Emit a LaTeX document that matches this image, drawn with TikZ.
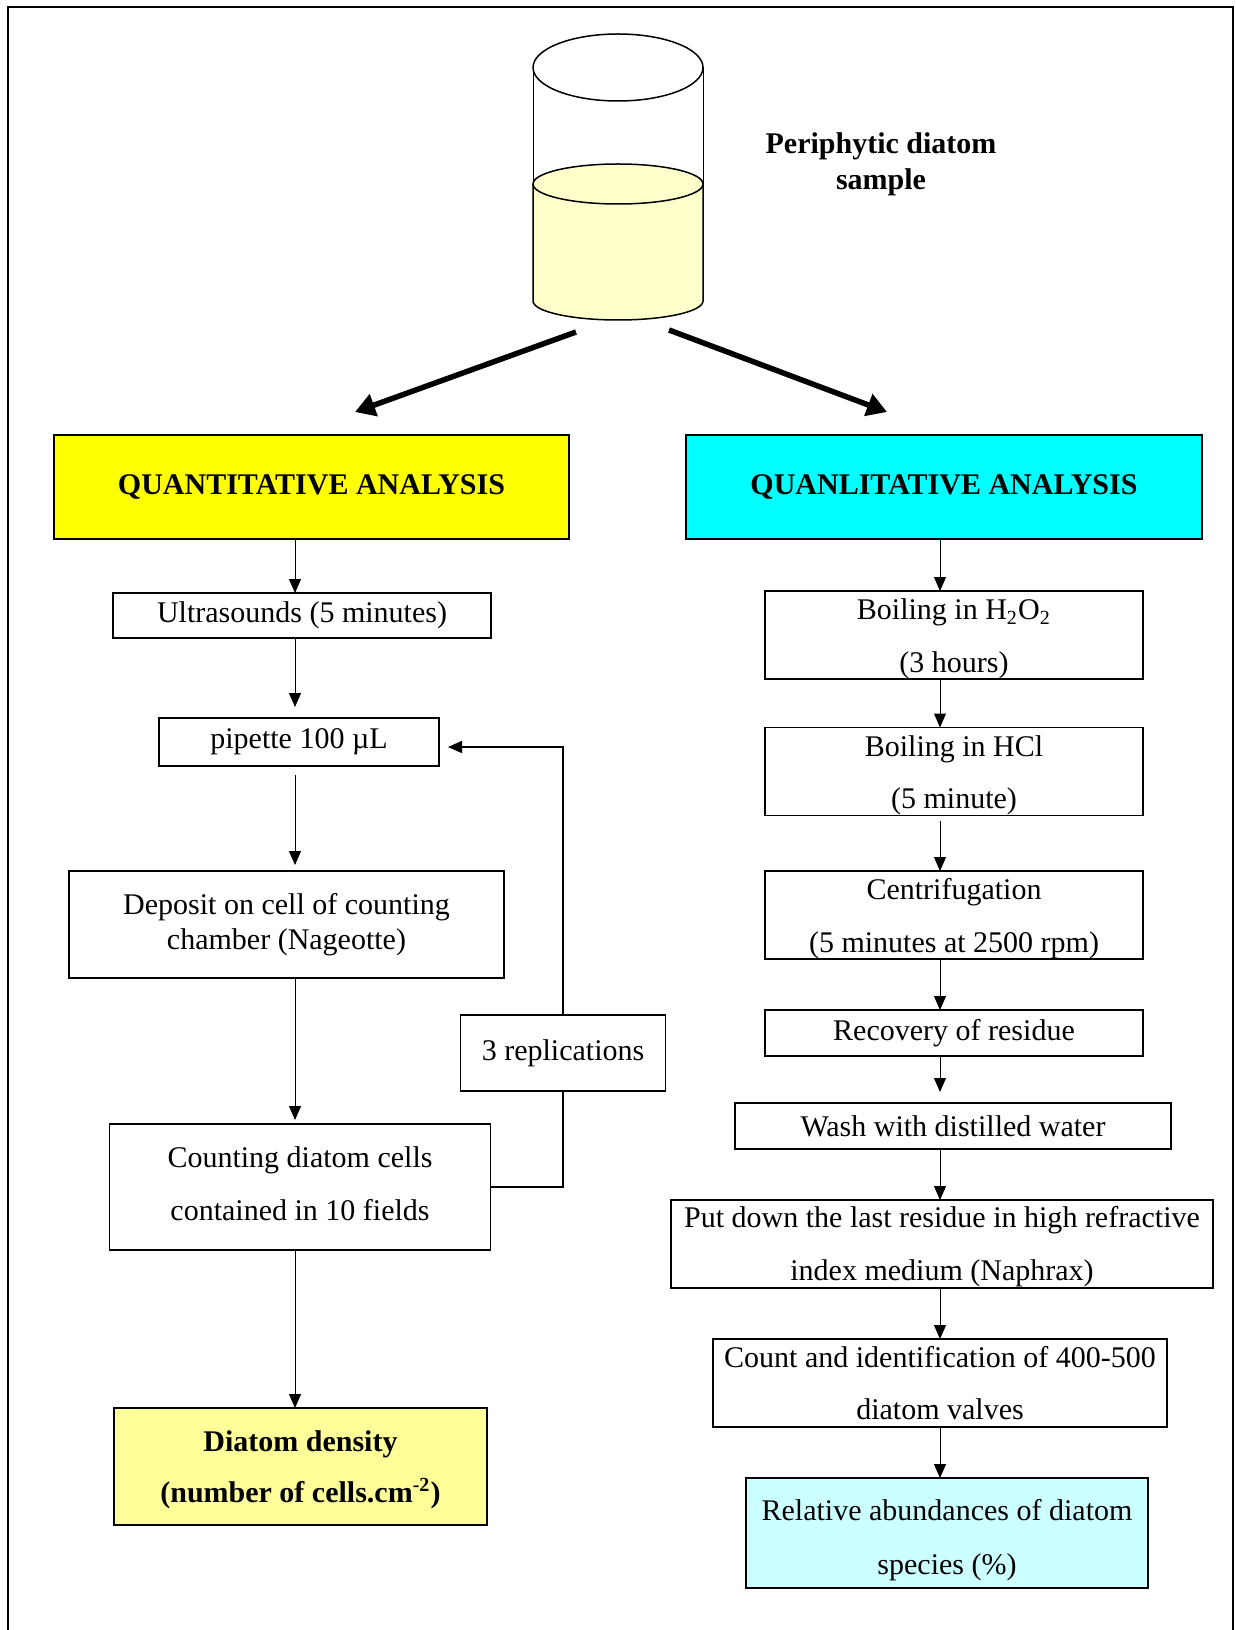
\documentclass[tikz,border=0pt]{standalone}
\usepackage{fontspec}
\setmainfont{Liberation Serif}
\usetikzlibrary{arrows.meta}
\definecolor{liquid}{HTML}{FFFFCC}
\definecolor{quantfill}{HTML}{FFFF00}
\definecolor{qualfill}{HTML}{00FFFF}
\definecolor{densfill}{HTML}{FFFF99}
\definecolor{abundfill}{HTML}{CCFFFF}

\begin{document}
\begin{tikzpicture}[x=0.4pt, y=-0.4pt, >={Triangle[length=5.6pt, width=4.8pt]},
boxsize/.style 2 args={minimum width=#1, minimum height=#2},
stepnode/.style={draw=black, semithick, fill=white, inner sep=0pt, outer sep=0pt, align=center, font=\fontsize{12}{21}\selectfont},
headnode/.style={draw=black, thick, inner sep=0pt, outer sep=0pt, font=\fontsize{12}{14}\selectfont\bfseries, boxsize={206pt}{41.6pt}},
bignode/.style={->, line width=2.2pt, >={Triangle[length=8pt, width=9pt]}}]
\useasboundingbox (0,0) rectangle (1235,1630);
\draw[line width=0.8pt] (8,1645) -- (8,7) -- (1233,7) -- (1233,1645);

\draw[semithick] (618,67.5) ellipse[x radius=85, y radius=33.5];
\draw[thin] (533,67.5) -- (533,184);
\draw[thin] (703,67.5) -- (703,184);
\draw[semithick, fill=liquid] (533,184) -- (533,301) arc[start angle=180, end angle=0, x radius=85, y radius=19] -- (703,184);
\draw[semithick, fill=liquid] (618,184) ellipse[x radius=85, y radius=20];
\node[align=center, font=\fontsize{12}{14.4}\selectfont\bfseries] (sample) at (881,164) {Periphytic diatom\\sample};

\coordinate (ls) at (576,332);
\coordinate (le) at (355,412);
\coordinate (rs) at (669,330);
\coordinate (re) at (887,412);
\draw[bignode] (ls) -- (le);
\draw[bignode] (rs) -- (re);

\node[headnode, fill=quantfill] (quant) at (311.5,487) {QUANTITATIVE ANALYSIS};
\node[headnode, fill=qualfill, boxsize={206.4pt}{41.6pt}] (qual) at (944,487) {QUANLITATIVE ANALYSIS};

\node[stepnode, boxsize={151.2pt}{18pt}] (ultra) at (302,615.5) {Ultrasounds (5 minutes)};
\node[stepnode, boxsize={112pt}{19.2pt}] (pip) at (299,742) {pipette 100 µL};
\node[stepnode, boxsize={174pt}{42.8pt}, font=\fontsize{12}{14}\selectfont] (depo) at (286.5,924.5) {Deposit on cell of counting\\chamber (Nageotte)};
\node[stepnode, boxsize={152.4pt}{50.4pt}, text height=26.8pt] (count) at (300,1187) {Counting diatom cells\\contained in 10 fields};
\node[stepnode, boxsize={149.2pt}{46.8pt}, fill=densfill, text height=31pt, font=\fontsize{12}{20.4}\selectfont\bfseries] (dens) at (300.5,1466.5) {Diatom density\\(number of cells.cm\textsuperscript{-2})};
\node[stepnode, boxsize={82pt}{30.4pt}] (repl) at (563,1053) {3 replications};

\node[stepnode, boxsize={151.2pt}{35.2pt}, text height=32.5pt] (boil) at (954,635) {Boiling in H\textsubscript{2}O\textsubscript{2}\\(3 hours)};
\node[stepnode, boxsize={151.2pt}{35.2pt}, text height=32.5pt] (hcl) at (954,771.5) {Boiling in HCl\\(5 minute)};
\node[stepnode, boxsize={151.2pt}{35.2pt}, text height=32.5pt] (centr) at (954,915) {Centrifugation\\(5 minutes at 2500 rpm)};
\node[stepnode, boxsize={151.2pt}{18.4pt}] (recov) at (954,1033) {Recovery of residue};
\node[stepnode, boxsize={174.4pt}{18.4pt}] (wash) at (953,1126) {Wash with distilled water};
\node[stepnode, boxsize={216.8pt}{35.2pt}, text height=31.6pt] (mount) at (942,1244) {Put down the last residue in high refractive\\index medium (Naphrax)};
\node[stepnode, boxsize={181.6pt}{35.2pt}] (ident) at (940,1383) {Count and identification of 400-500\\diatom valves};
\node[stepnode, boxsize={160.8pt}{44pt}, fill=abundfill, text height=35.4pt, font=\fontsize{12}{21.6}\selectfont] (abund) at (947,1533) {Relative abundances of diatom\\species (\%)};

\coordinate (lx) at (295,0);
\coordinate (rx) at (940,0);

\draw[->] (quant.south -| lx) -- (ultra.north -| lx);
\draw[->, shorten >=4.4pt] (ultra.south -| lx) -- (pip.north -| lx);
\draw[->, shorten <=3.6pt, shorten >=2.4pt] (pip.south -| lx) -- (depo.north -| lx);
\draw[->, shorten >=1.6pt] (depo.south -| lx) -- (count.north -| lx);
\draw[->] (count.south -| lx) -- (dens.north -| lx);
\draw[semithick] (count.east) -| (repl.south);
\draw[->, semithick, shorten >=3.6pt] (repl.north) |- ([yshift=-2pt]pip.east);

\draw[->] (qual.south -| rx) -- (boil.north -| rx);
\draw[->] (boil.south -| rx) -- (hcl.north -| rx);
\draw[->, shorten <=2pt] (hcl.south -| rx) -- (centr.north -| rx);
\draw[->] (centr.south -| rx) -- (recov.north -| rx);
\draw[->, shorten >=4.4pt] (recov.south -| rx) -- (wash.north -| rx);
\draw[->] (wash.south -| rx) -- (mount.north -| rx);
\draw[->] (mount.south -| rx) -- (ident.north -| rx);
\draw[->] (ident.south -| rx) -- (abund.north -| rx);
\end{tikzpicture}
\end{document}
